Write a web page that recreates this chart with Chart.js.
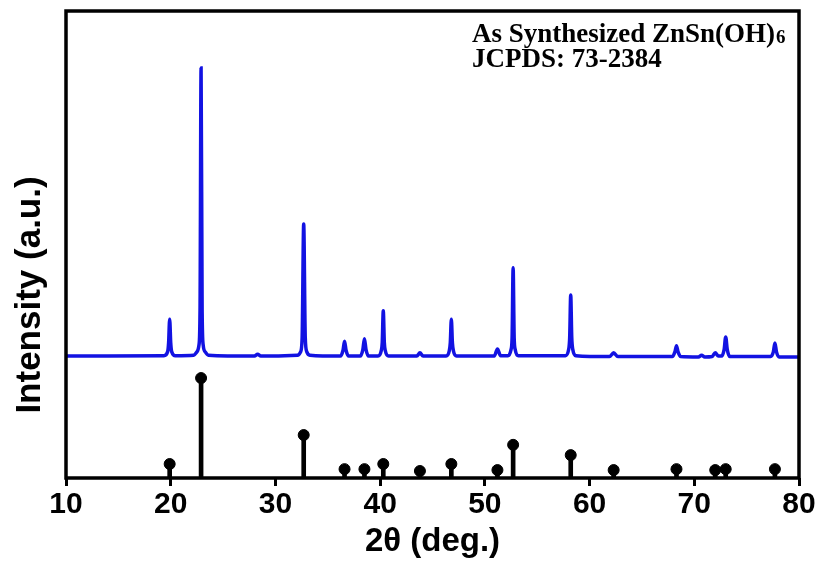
<!DOCTYPE html>
<html>
<head>
<meta charset="utf-8">
<script src="https://cdn.jsdelivr.net/npm/chart.js@4.4.1/dist/chart.umd.min.js"></script>
<style>
  html, body { margin: 0; padding: 0; background: #fff; }
  #xrdChart { display: block; }
</style>
</head>
<body>
<canvas id="xrdChart" width="822" height="562"></canvas>
<script>
// Diffractogram (2θ in degrees, intensity in plot units 0-100)
const scanAngle = [
  10, 14, 19.35, 19.7, 19.8, 19.9, 20.0, 20.1, 20.45,
  22.2, 22.5, 22.7, 22.8, 22.9, 23.0, 23.1, 23.3, 23.6,
  28.0, 28.3, 28.6,
  32.1, 32.4, 32.55, 32.7, 32.85, 33.0, 33.3,
  36.2, 36.45, 36.6, 36.75, 37.0,
  38.1, 38.35, 38.5, 38.65, 38.9,
  39.8, 40.1, 40.2, 40.3, 40.4, 40.5, 40.8,
  43.5, 43.8, 44.1,
  46.3, 46.6, 46.7, 46.8, 46.9, 47.0, 47.3,
  50.9, 51.2, 51.5,
  52.2, 52.5, 52.6, 52.7, 52.8, 52.9, 53.2,
  57.7, 58.0, 58.1, 58.2, 58.3, 58.4, 58.7,
  61.9, 62.3, 62.7,
  67.9, 68.15, 68.3, 68.45, 68.7,
  70.4, 70.7, 71.0,
  71.7, 72.0, 72.3,
  72.6, 72.85, 73.0, 73.15, 73.4,
  77.3, 77.55, 77.7, 77.85, 78.1,
  80
];
const scanIntensity = [
  26.1, 26.1, 26.2, 27.0, 29.0, 34.0, 29.0, 27.0, 26.2,
  26.3, 27.0, 28.5, 36.0, 87.8, 36.0, 28.5, 27.0, 26.3,
  26.1, 26.5, 26.1,
  26.3, 27.0, 30.0, 54.4, 30.0, 27.0, 26.3,
  26.1, 27.3, 29.3, 27.3, 26.1,
  26.1, 27.5, 29.8, 27.5, 26.1,
  26.1, 27.2, 29.0, 35.8, 29.0, 27.2, 26.1,
  26.1, 26.8, 26.1,
  26.1, 27.2, 29.0, 34.0, 29.0, 27.2, 26.1,
  26.1, 27.6, 26.2,
  26.2, 27.5, 30.0, 45.0, 30.0, 27.5, 26.2,
  26.2, 27.5, 30.0, 39.2, 30.0, 27.5, 26.2,
  26.0, 26.8, 26.0,
  26.0, 27.0, 28.3, 27.0, 26.0,
  25.9, 26.3, 25.9,
  26.0, 26.8, 26.1,
  26.1, 27.5, 30.2, 27.5, 26.0,
  26.0, 27.0, 28.9, 27.0, 25.9,
  25.9
];

// Reference pattern JCPDS 73-2384
const refAngle = [19.9, 22.9, 32.7, 36.6, 38.5, 40.3, 43.8, 46.8, 51.2, 52.7, 58.2, 62.3, 68.3, 72.0, 73.0, 77.7];
const refIntensity = [3.0, 21.4, 9.2, 1.9, 1.9, 3.0, 1.5, 3.0, 1.7, 7.1, 4.9, 1.7, 1.9, 1.7, 1.9, 1.9];

const xTicks = [10, 20, 30, 40, 50, 60, 70, 80];

const sansBold = '"Liberation Sans", Arial, sans-serif';
const serif = '"Liberation Serif", "Times New Roman", serif';

const scanPoints = scanAngle.map((a, i) => ({ x: a, y: scanIntensity[i] }));
const refPoints = refAngle.map((a, i) => ({ x: a, y: refIntensity[i] }));

// frame, y title and the label in the top right corner
const decorPlugin = {
  id: 'decor',
  afterDraw(chart) {
    const c = chart.ctx;
    const a = chart.chartArea;
    c.save();
    c.strokeStyle = '#000';
    c.lineWidth = 3.5;
    c.strokeRect(a.left, a.top, a.right - a.left, a.bottom - a.top);

    c.fillStyle = '#000';
    c.translate(30, 295);
    c.rotate(-Math.PI / 2);
    c.font = 'bold 35px ' + sansBold;
    c.textAlign = 'center';
    c.textBaseline = 'middle';
    c.fillText('Intensity (a.u.)', 0, 0);
    c.restore();

    c.save();
    c.fillStyle = '#000';
    c.textAlign = 'left';
    c.textBaseline = 'alphabetic';
    c.font = 'bold 27px ' + serif;
    const line1 = 'As Synthesized ZnSn(OH)';
    c.fillText(line1, 472, 42);
    const w = c.measureText(line1).width;
    c.font = 'bold 19px ' + serif;
    c.fillText('6', 472 + w + 1, 43);
    c.font = 'bold 27px ' + serif;
    c.fillText('JCPDS: 73-2384', 472, 67);
    c.restore();
  }
};

const ctx = document.getElementById('xrdChart').getContext('2d');
const xrdChart = new Chart(ctx, {
  data: {
    datasets: [
      {
        type: 'line',
        label: 'As Synthesized ZnSn(OH)6',
        data: scanPoints,
        borderColor: 'rgb(18,18,226)',
        borderWidth: 3.5,
        pointRadius: 0,
        cubicInterpolationMode: 'monotone',
        order: 1
      },
      {
        type: 'bar',
        label: 'JCPDS sticks',
        data: refPoints,
        backgroundColor: '#000',
        barThickness: 4,
        order: 3
      },
      {
        type: 'scatter',
        label: 'JCPDS: 73-2384',
        data: refPoints,
        backgroundColor: '#000',
        borderColor: '#000',
        pointRadius: 5.5,
        order: 2
      }
    ]
  },
  options: {
    responsive: false,
    animation: false,
    devicePixelRatio: 1,
    layout: { padding: { left: 66, right: 23, top: 11, bottom: 0 } },
    plugins: {
      legend: { display: false },
      tooltip: { enabled: false }
    },
    scales: {
      x: {
        type: 'linear',
        min: 10,
        max: 80,
        offset: false,
        afterBuildTicks: s => { s.ticks = xTicks.map(v => ({ value: v })); },
        afterFit: s => { s.height = 84; },
        border: { display: false },
        grid: {
          offset: false,
          drawOnChartArea: false,
          drawTicks: true,
          tickLength: 8,
          tickWidth: 3,
          tickColor: '#000'
        },
        ticks: {
          color: '#000',
          padding: 1,
          maxRotation: 0,
          font: { family: sansBold, size: 30, weight: 'bold' }
        },
        title: {
          display: true,
          text: '2θ (deg.)',
          color: '#000',
          padding: { top: 0, bottom: 0 },
          font: { family: sansBold, size: 33, weight: 'bold' }
        }
      },
      y: {
        display: false,
        min: 0,
        max: 100
      }
    }
  },
  plugins: [decorPlugin]
});
</script>
</body>
</html>
